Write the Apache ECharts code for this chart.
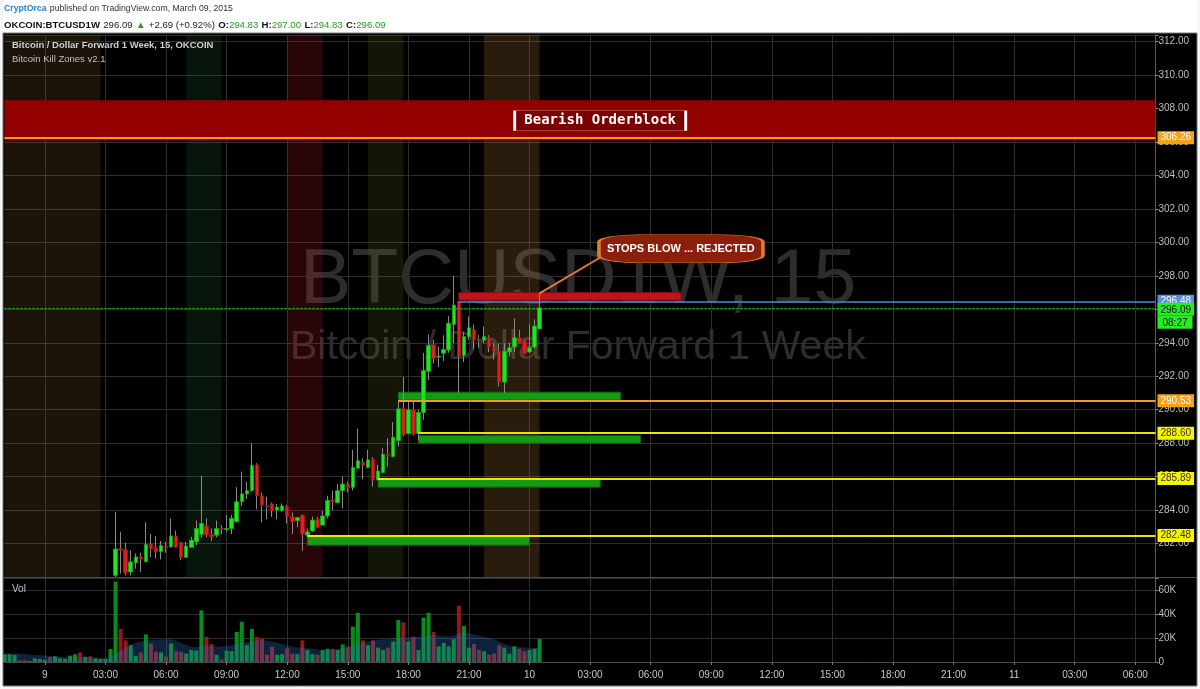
<!DOCTYPE html>
<html><head><meta charset="utf-8">
<script src="https://cdn.jsdelivr.net/npm/echarts@6/dist/echarts.min.js"></script>
<style>html,body{margin:0;padding:0;background:#fff}#c{width:1200px;height:689px}</style>
</head><body><div id="c"></div>
<script>
// ---- DATA ----
// 15-minute slots; slot 0 = 00:00 on 9 March 2015
const firstSlot = -8, lastSlot = 220;
const candleStartSlot = 14;
// [open, high, low, close]
const candles = [
[280.1,283.9,280.0,281.67],[281.7,282.7,280.2,281.6],[281.63,282.05,280.1,280.25],[280.3,281.6,280.1,280.9],
[280.85,281.4,280.5,281.2],[281.2,281.45,280.3,281.07],[280.91,283.27,280.9,281.95],[281.97,282.57,281.17,281.67],
[281.75,282.45,281.1,281.5],[281.51,282.15,281.05,281.89],[281.85,282.1,281.45,281.75],[281.8,283.5,281.77,282.45],
[282.45,282.77,281.75,281.77],[282.07,282.1,281.0,281.15],[281.17,282.1,281.15,281.85],[281.77,282.4,281.75,282.2],
[282.1,283.37,281.9,282.9],[282.55,286.04,282.37,283.2],[283.05,283.5,282.37,282.5],[282.53,282.9,282.17,282.4],
[282.5,283.37,282.37,282.9],[282.9,283.1,282.57,282.85],[282.83,283.7,282.7,282.9],[282.9,283.7,282.57,283.5],
[283.3,285.37,283.3,284.5],[284.5,286.3,284.25,284.97],[284.97,285.7,284.65,285.16],[285.16,288.0,285.1,286.66],
[286.7,286.8,284.05,284.86],[284.86,285.05,283.27,284.3],[284.27,284.8,283.45,284.2],[284.37,284.45,283.6,283.97],
[284.0,284.37,283.45,284.17],[283.97,284.4,283.9,284.25],[284.2,284.3,283.2,283.6],[283.6,283.85,282.57,283.3],
[283.37,283.6,282.97,283.55],[283.7,283.75,281.57,282.57],[282.5,282.9,282.37,282.7],[282.75,283.6,282.7,283.4],
[283.45,283.6,282.95,282.97],[283.1,283.95,283.1,283.65],[283.65,284.86,283.5,284.58],[284.6,285.17,283.97,284.5],
[284.44,285.56,284.4,285.16],[285.16,286.0,284.1,285.56],[285.56,285.7,285.05,285.36],[285.36,287.6,285.17,286.55],
[286.5,288.87,286.5,286.95],[286.85,287.1,285.85,286.67],[286.55,287.6,286.5,287.0],[287.04,287.16,285.4,285.8],
[285.8,286.7,285.8,286.34],[286.24,287.7,286.2,287.34],[287.35,288.3,286.6,287.25],[287.2,289.25,287.15,288.35],
[288.15,290.56,287.8,290.05],[290.07,291.96,288.4,288.5],[288.57,290.5,288.55,290.0],[290.0,290.5,288.45,288.55],
[288.57,290.0,288.17,289.84],[289.84,293.4,289.4,292.34],[292.3,294.5,291.77,293.85],[293.9,294.17,292.77,293.05],
[293.15,293.77,292.55,293.2],[293.37,294.45,292.9,293.6],[293.57,295.6,293.4,295.17],[295.1,298.0,293.97,296.25],
[296.47,296.5,291.0,293.2],[293.25,294.65,292.85,294.37],[294.37,295.57,294.17,294.9],[294.8,295.1,293.6,294.17],
[294.2,294.45,293.7,294.12],[294.15,294.97,293.97,294.37],[294.3,294.45,293.45,293.75],[293.7,293.97,293.0,293.5],
[293.5,293.97,291.4,291.65],[291.65,293.97,291.0,293.5],[293.45,294.0,293.18,293.7],[293.75,295.45,293.45,294.3],
[294.3,294.77,293.97,294.03],[294.1,294.17,293.3,293.37],[293.45,295.1,293.4,293.7],[293.75,295.4,293.7,295.0],
[294.83,297.0,294.83,296.09]
];
// volume (thousands), from slot -8
const volumeStartSlot = -8;
const volumes = [
6.4,6.4,6,1.5,1.5,0.8,3,2.5,1.7,4,4.7,3,2.5,5.3,6.4,8,4.4,4.7,3,2.5,2.5,10.8,
67,27.5,18,14,5,8,23,15.5,8.6,8,4.5,15.5,9,8.5,7,10,9.5,43,21,15,6,2,9.5,9,25,33.6,14,27.5,21,20,6,12.8,6,6.5,11.5,7,6.5,18,10,6.5,6,10,11,11,10,14.7,13,29.5,41,18,14,18,12,10,12,17,35,33,17,21,10,37,41,25,13,16,13,19,47,30,12,15,10,9,6,7,14,12,7,13,11,9,10,11,19.17
];
// direction of the bars that come before the first visible candle (u = up, d = down)
const preCandleDirs = 'uuudduuuuduuuuududuuuu';
const volumeMA = [
7,7,7,6.8,6.6,6.3,6,5.7,5.4,5,4.7,4.5,4.3,4.1,4,4,3.9,3.8,3.7,3.6,3.5,3.6,
7.5,9,12,14,16,17,18,18.5,18.5,19,19,19,18,16,14,13,12.5,13,13.5,13.5,13,13,13.5,14,15,16,16.5,17,18,18.5,18,17,16,15,14,13,12,12,11.5,11,10.5,10,10,10.5,11,11.5,12,13.5,15,16,17,18,18.5,19,19,19.5,20,20.5,20.5,21,21,21,22,22.5,22,21.5,21.5,22,24,25,24,23,22,21,20,19,17,15,14,13,12.5,12,11.8,11.6,11.599
];
const lastPrice = 296.09, lastVolume = 19.17, lastVolumeMA = 11.599;
const levelPrices = [306.26, 296.48, 290.53, 288.60, 285.89, 282.48];
const levelStartSlots = [-8, 82, 70, 74, 66, 52];
const bullishBlocks = [[70,114,290.58,291.05],[74,118,288.0,288.45],[66,110,285.37,285.9],[52,96,281.9,282.45]];
const bearishBlock = [82,126,296.55,297.0];
const bearishBand = [306.1, 308.5];
const killZones = [[-8,11],[28,35],[48,55],[64,71],[87,98]];
const priceMin = 280, priceMax = 312.4, priceStep = 2;
const volMax = 70000, volStep = 20000;

// ---- BUILD ----
const slots = []; for (let k = firstSlot; k <= lastSlot; k++) slots.push(k);
const idx = k => k - firstSlot;
function slotLabel(k){ const m=k*15; const day=9+Math.floor(m/1440); const md=((m%1440)+1440)%1440;
  const h=Math.floor(md/60), mi=md%60; return (h===0&&mi===0)?String(day):String(h).padStart(2,'0')+':'+String(mi).padStart(2,'0'); }
const categories = slots.map(slotLabel);
const major = i => ((slots[i] % 12) + 12) % 12 === 0;

const wickData = slots.map(()=>'-'), bodyData = slots.map(()=>'-');
candles.forEach((c,j)=>{ const i=idx(candleStartSlot+j); const o=c[0],h=c[1],l=c[2],cl=c[3];
  wickData[i]=[o,cl,l,h]; bodyData[i]=[o,cl,Math.min(o,cl),Math.max(o,cl)]; });
const volData = slots.map(()=>'-'), maData = slots.map(()=>'-');
volumes.forEach((v,j)=>{ const k=volumeStartSlot+j; const i=idx(k);
  const c=candles[k-candleStartSlot];
  const up = c ? c[3]>=c[0] : preCandleDirs[j]==='u';
  volData[i]={value:v*1000,itemStyle:{color:up?'#0a8c1c':'#8e1c1c'}}; maData[i]=volumeMA[j]*1000; });

const zoneColors=['rgba(150,100,50,0.19)','rgba(50,130,60,0.16)','rgba(200,30,30,0.19)','rgba(120,130,40,0.16)','rgba(210,140,60,0.2)'];
const areas=[];
killZones.forEach((z,i)=>{ areas.push([{xAxis:idx(z[0]),yAxis:priceMin,itemStyle:{color:zoneColors[i]}},{xAxis:idx(z[1]),yAxis:priceMax}]); });
areas.push([{xAxis:0,yAxis:bearishBand[0],itemStyle:{color:'#930000'}},{xAxis:slots.length-1,yAxis:bearishBand[1]}]);
bullishBlocks.forEach(b=>{ areas.push([{xAxis:idx(b[0]),yAxis:b[2],itemStyle:{color:'#149a14',borderColor:'#0b6a0b',borderWidth:1}},{xAxis:idx(b[1]),yAxis:b[3]}]); });
areas.push([{xAxis:idx(bearishBlock[0]),yAxis:bearishBlock[2],itemStyle:{color:'#c0141c',borderColor:'#8a0d12',borderWidth:1}},{xAxis:idx(bearishBlock[1]),yAxis:bearishBlock[3]}]);

const F='Liberation Sans, Arial, sans-serif';
const levelStyle={orange:{line:'#f39a1e',bg:'#f7a01b',fg:'#fff'},blue:{line:'#4f86d8',bg:'#5b8fde',fg:'#fff'},yellow:{line:'#e6e600',bg:'#f5f500',fg:'#333'}};
const levelKinds=['orange','blue','orange','yellow','yellow','yellow'];
const lbl=(bg,fg)=>({show:true,position:'end',distance:2,backgroundColor:bg,color:fg,padding:[2,3,1,3],fontSize:10,fontFamily:F});
const lines=[];
levelPrices.forEach((p,i)=>{ const s=levelStyle[levelKinds[i]];
  lines.push([{coord:[idx(levelStartSlots[i]),p],lineStyle:{color:s.line,width:levelKinds[i]==='blue'?1.5:2,type:'solid'},label:Object.assign(lbl(s.bg,s.fg),{formatter:p.toFixed(2)})},{coord:[slots.length-1,p]}]); });
lines.push([{coord:[0,lastPrice],lineStyle:{color:'#22cc22',width:1,type:[2,2]},label:{show:true,position:'end',distance:2,formatter:'{p|'+lastPrice.toFixed(2)+'}\n{t|08:27}',offset:[0,8],lineHeight:13,
  rich:{p:{backgroundColor:'#22ee22',color:'#111',padding:[2,3,1,3],fontSize:10,fontFamily:F},t:{backgroundColor:'#22ee22',color:'#111',padding:[2,5,1,5],fontSize:10,fontFamily:F}}}},{coord:[slots.length-1,lastPrice]}]);
lines.push([{coord:[slots.length-1-9,lastPrice],lineStyle:{opacity:0},label:{show:true,position:'insideEnd',distance:0,formatter:'BTCUSD1W',backgroundColor:'#22ee22',color:'#111',padding:[2,4,1,4],fontSize:9,fontFamily:F}},{coord:[slots.length-1,lastPrice]}]);
lines.push([{coord:[idx(110),299.1],lineStyle:{color:'#e4782c',width:2,type:'solid'},label:{show:false}},{coord:[idx(98),296.95]}]);

const chart = echarts.init(document.getElementById('c'));
chart.setOption({
  backgroundColor:'#000',
  animation:false,
  grid:[{left:4.5,right:44.5,top:35,height:542},{left:4.5,right:44.5,top:578,height:84}],
  xAxis:[
    {type:'category',gridIndex:0,data:categories,boundaryGap:false,axisLine:{show:false},axisTick:{show:false},axisLabel:{show:false},
     splitLine:{show:true,interval:i=>major(i),lineStyle:{color:'#2e2e2e',width:1}}},
    {type:'category',gridIndex:1,data:categories,boundaryGap:false,axisLine:{show:true,lineStyle:{color:'#4a4a4a'}},
     axisTick:{show:true,interval:i=>major(i),length:3,lineStyle:{color:'#777'}},
     axisLabel:{show:true,interval:i=>major(i),color:'#c8c8c8',fontSize:10,fontFamily:F,margin:8},
     splitLine:{show:true,interval:i=>major(i),lineStyle:{color:'#2e2e2e',width:1}}}
  ],
  yAxis:[
    {type:'value',gridIndex:0,position:'right',min:priceMin,max:priceMax,interval:priceStep,
     axisLine:{show:true,lineStyle:{color:'#5a5a5a'}},axisTick:{show:true,length:3,lineStyle:{color:'#888'}},
     axisLabel:{color:'#bdbdbd',fontSize:10,fontFamily:F,margin:3,formatter:v=>(Math.abs(v%2)<1e-6&&v>priceMin&&v<priceMax)?v.toFixed(2):''},
     splitLine:{show:true,lineStyle:{color:'#2e2e2e',width:1}}},
    {type:'value',gridIndex:1,position:'right',min:0,max:volMax,interval:volStep,
     axisLine:{show:true,lineStyle:{color:'#5a5a5a'}},axisTick:{show:true,length:3,lineStyle:{color:'#888'}},
     axisLabel:{color:'#bdbdbd',fontSize:10,fontFamily:F,margin:3,formatter:v=>v===0?'0':(v>=volMax?'':(v/1000)+'K')},
     splitLine:{show:true,lineStyle:{color:'#2e2e2e',width:1}}}
  ],
  series:[
    {type:'candlestick',name:'wick',xAxisIndex:0,yAxisIndex:0,data:wickData,barWidth:1,
     itemStyle:{color:'#8a8a8a',color0:'#8a8a8a',borderColor:'#8a8a8a',borderColor0:'#8a8a8a',borderWidth:1},
     markArea:{silent:true,data:areas},
     markLine:{silent:true,symbol:['none','none'],data:lines},
     markPoint:{silent:true,data:[
       {coord:[idx(110),307.28],symbol:'rect',symbolSize:[171,20],itemStyle:{color:'#7c0000',borderColor:'#fff',borderWidth:1},
        label:{show:true,position:'inside',formatter:'Bearish Orderblock',color:'#fff',fontSize:14,fontWeight:'bold',fontFamily:'DejaVu Sans Mono, Liberation Mono, monospace'}},
       {coord:[idx(126),299.62],symbol:'roundRect',symbolSize:[164,28],itemStyle:{color:'#8a1f0c',borderColor:'#e07a30',borderWidth:1.5},
        label:{show:true,position:'inside',formatter:'STOPS BLOW ... REJECTED',color:'#fff',fontSize:11,fontWeight:'bold',fontFamily:F}}
     ]}},
    {type:'candlestick',name:'body',xAxisIndex:0,yAxisIndex:0,data:bodyData,barWidth:4,
     itemStyle:{color:'#22e322',color0:'#de2020',borderColor:'#16a816',borderColor0:'#a01414',borderWidth:0.8}},
    {type:'bar',xAxisIndex:1,yAxisIndex:1,data:volData,barWidth:4,
     markLine:{silent:true,symbol:['none','none'],lineStyle:{opacity:0},data:[
       {yAxis:lastVolume*1000,label:Object.assign(lbl('#1e8a22','#fff'),{formatter:lastVolume.toFixed(2)+'K'})},
       {yAxis:lastVolumeMA*1000,label:Object.assign(lbl('#1e90ff','#fff'),{formatter:lastVolumeMA.toFixed(3)+'K'})}]}},
    {type:'line',xAxisIndex:1,yAxisIndex:1,data:maData,symbol:'none',lineStyle:{width:0},areaStyle:{color:'rgba(45,115,200,0.42)'},z:3}
  ],
  graphic:[
    {type:'text',left:300,top:243,z:-1,style:{text:'BTCUSD1W, 15',fill:'#2d2d2d',font:'77px '+F}},
    {type:'text',left:290,top:327,z:-1,style:{text:'Bitcoin / Dollar Forward 1 Week',fill:'#2d2d2d',font:'41px '+F}},
    {type:'rect',z:50,shape:{x:0,y:0,width:1200,height:33},style:{fill:'#fff'}},
    {type:'rect',z:50,shape:{x:0,y:0,width:3,height:689},style:{fill:'#f4f6f8'}},
    {type:'rect',z:50,shape:{x:1197,y:0,width:3,height:689},style:{fill:'#f4f6f8'}},
    {type:'rect',z:50,shape:{x:0,y:686,width:1200,height:3},style:{fill:'#f4f6f8'}},
    {type:'rect',z:51,shape:{x:3,y:33,width:1194,height:653},style:{fill:'none',stroke:'#7a7a7a',lineWidth:1}},
    {type:'line',z:20,shape:{x1:3,y1:577.5,x2:1197,y2:577.5},style:{stroke:'#4a4a4a',lineWidth:1}},
    {type:'text',z:52,left:4,top:3,style:{text:'{a|CryptOrca} {b|published on TradingView.com, March 09, 2015}',
      rich:{a:{fill:'#1f86c9',font:'bold 8.7px '+F},b:{fill:'#333',font:'8.7px '+F}}}},
    {type:'text',z:52,left:4,top:19,style:{text:'{k|OKCOIN:BTCUSD1W} {n|296.09} {g|▲} {n|+2.69 (+0.92%)} {k|O:}{g|294.83} {k|H:}{g|297.00} {k|L:}{g|294.83} {k|C:}{g|296.09}',
      rich:{k:{fill:'#111',font:'bold 9.6px '+F},n:{fill:'#222',font:'9.6px '+F},g:{fill:'#22a022',font:'9.6px '+F}}}},
    {type:'text',z:20,left:12,top:40,style:{text:'Bitcoin / Dollar Forward 1 Week, 15, OKCOIN',fill:'#d0d0d0',font:'bold 9.5px '+F}},
    {type:'text',z:20,left:12,top:54,style:{text:'Bitcoin Kill Zones v2.1',fill:'#c0c0c0',font:'9.5px '+F}},
    {type:'text',z:20,left:12,top:584,style:{text:'Vol',fill:'#c0c0c0',font:'10px '+F}}
  ]
});
</script></body></html>
